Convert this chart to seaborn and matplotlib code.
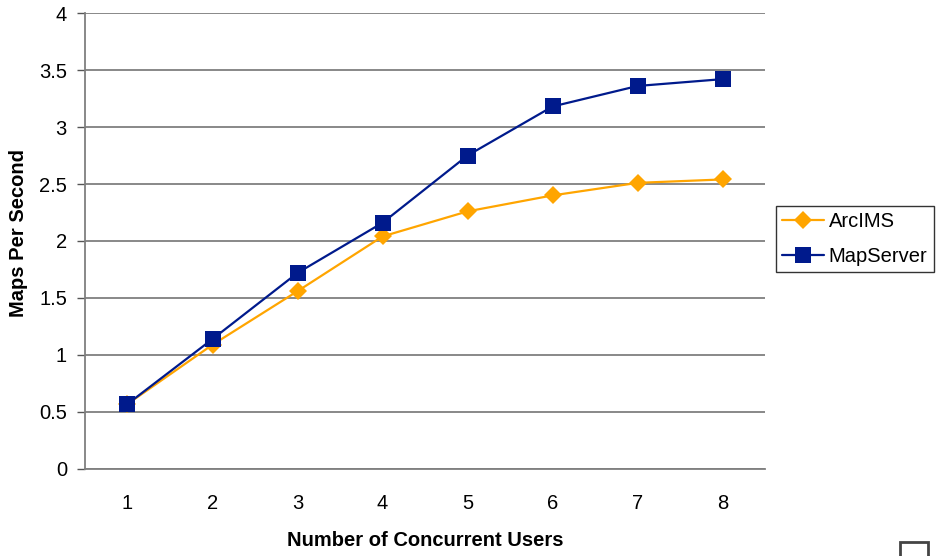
import numpy as np
import pandas as pd
import matplotlib
matplotlib.use("Agg")
import matplotlib.pyplot as plt
from matplotlib.patches import Rectangle
import seaborn as sns

users = [1, 2, 3, 4, 5, 6, 7, 8]
arcims = [0.57, 1.09, 1.56, 2.04, 2.26, 2.40, 2.51, 2.54]
mapserver = [0.57, 1.14, 1.72, 2.16, 2.75, 3.18, 3.36, 3.42]
series_names = ["ArcIMS", "MapServer"]
y_ticks = [0, 0.5, 1, 1.5, 2, 2.5, 3, 3.5, 4]

df = pd.DataFrame({
    "users": users * 2,
    "maps": arcims + mapserver,
    "server": [series_names[0]] * len(users) + [series_names[1]] * len(users),
})

sns.set_style("white")
plt.rcParams["font.family"] = ["Liberation Sans", "DejaVu Sans"]
plt.rcParams["text.color"] = "black"
plt.rcParams["axes.labelcolor"] = "black"
plt.rcParams["xtick.color"] = "black"
plt.rcParams["ytick.color"] = "black"

FS = 14.5

fig = plt.figure(figsize=(9.4, 5.56), dpi=100)
ax = fig.add_axes([0.0904, 0.1565, 0.7236, 0.8201])

palette = {"ArcIMS": "#FFA500", "MapServer": "#001A8C"}
sns.lineplot(data=df, x="users", y="maps", hue="server", style="server",
             markers={"ArcIMS": "D", "MapServer": "s"}, dashes=False,
             palette=palette, markersize=11, linewidth=1.6,
             markeredgewidth=0, ax=ax)
# diamonds look a bit smaller than squares
for line in ax.lines:
    if line.get_marker() == "D":
        line.set_markersize(9)

ax.set_xlim(0.5, 8.5)
ax.set_ylim(0, 4)
ax.set_yticks(y_ticks)
ax.set_yticklabels([f"{t:g}" for t in y_ticks])
ax.set_xticks(users)
ax.set_xticks(np.arange(0.5, 9.0, 1.0), minor=True)
ax.tick_params(axis="x", which="major", length=0, pad=18, labelsize=FS)
ax.tick_params(axis="x", which="minor", length=6, width=1, color="#333333")
ax.tick_params(axis="y", length=6, width=1, color="#555555", labelsize=FS, pad=7, left=True)
ax.grid(axis="y", color="#7f7f7f", linewidth=1.3)
ax.set_axisbelow(True)

for side in ["top", "right"]:
    ax.spines[side].set_visible(False)
for side in ["left", "bottom"]:
    ax.spines[side].set_color("#7f7f7f")
    ax.spines[side].set_linewidth(1.3)

ax.set_xlabel("Number of Concurrent Users", fontsize=FS, fontweight="bold", labelpad=13)
ax.set_ylabel("Maps Per Second", fontsize=FS, fontweight="bold")
ax.yaxis.set_label_coords(-0.084, 0.5175)

handles, labels = ax.get_legend_handles_labels()
leg = ax.legend(handles, labels, loc="upper left", bbox_to_anchor=(0.825, 0.629),
                bbox_transform=fig.transFigure, frameon=True, fancybox=False,
                fontsize=FS, handlelength=2.1, handletextpad=0.25,
                borderpad=0.3, labelspacing=0.8, borderaxespad=0)
leg.get_frame().set_edgecolor("black")
leg.get_frame().set_linewidth(1.0)

# small artifact box in the bottom right corner
fig.patches.append(Rectangle((0.957, -0.01), 0.03, 0.035, transform=fig.transFigure,
                             fill=False, edgecolor="#444444", linewidth=2.0))

fig.savefig("out.png", dpi=100)
